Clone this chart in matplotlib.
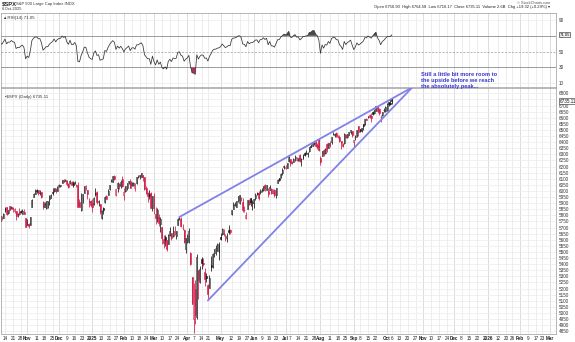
import numpy as np
import pandas as pd
import matplotlib
matplotlib.use("Agg")
import matplotlib.pyplot as plt

plt.rcParams["font.family"] = ["Liberation Sans", "DejaVu Sans"]

# ---------------------------------------------------------------------------
# S&P 500 daily closes before the first drawn candle (1-Aug-2024 .. 8-Oct-2024),
# used only to seed the RSI(14) calculation
warmup_close = [
    5410, 5347, 5186, 5240, 5199, 5319, 5344, 5344, 5435, 5455, 5543, 5554,
    5608, 5597, 5621, 5571, 5635, 5616, 5626, 5592, 5592, 5648,
    5529, 5520, 5503, 5408, 5471, 5496, 5554, 5596, 5626, 5633, 5635, 5618,
    5714, 5703, 5719, 5733, 5722, 5745, 5738, 5762,
    5709, 5710, 5700, 5751, 5696, 5751,
]

first_session = "2024-10-09"

# OHLC, 9-Oct-2024 .. 6-Oct-2025 (one row per month)
opens = [
    5751, 5778, 5775, 5836, 5866, 5816, 5875, 5860, 5857, 5833, 5835, 5813, 5827, 5834, 5815, 5831, 5776,
    5724, 5725, 5722, 5865, 5947, 5976, 6008, 6004, 5986, 5990, 5913, 5870, 5861, 5917, 5934, 5944, 5993, 6000, 6014, 6003,
    6040, 6042, 6069, 6089, 6081, 6083, 6058, 6061, 6074, 6068, 6063, 6052, 6047, 5913, 5842, 5941, 5985, 6025, 6007, 5921, 5920,
    5903, 5892, 5983, 5994, 5910, 5890, 5782, 5860, 5907, 5962, 5970, 6015, 6082, 6077, 6121, 5970, 6026, 6058, 6050, 6096,
    5970, 5998, 6020, 6073, 6083, 6047, 6050, 6026, 6061, 6115, 6121, 6118, 6134, 6114, 6027, 5983, 5971, 5981, 5857,
    5969, 5812, 5782, 5785, 5726, 5705, 5604, 5624, 5594, 5564, 5635, 5655, 5633, 5647, 5631, 5718, 5775, 5771, 5696, 5679, 5527,
    5597, 5580, 5492, 5292, 4953, 5193, 4966, 5353, 5256, 5442, 5411, 5335, 5306, 5232, 5207, 5395, 5381, 5489, 5529, 5508, 5499,
    5626, 5646, 5655, 5605, 5614, 5680, 5679, 5808, 5854, 5887, 5870, 5929, 5903, 5944, 5910, 5842, 5781, 5855, 5921, 5939, 5903,
    5897, 5939, 5979, 5985, 5988, 6005, 6010, 6050, 6010, 5997, 6005, 6012, 5987, 6004, 5970, 6062, 6104, 6112, 6151, 6194,
    6188, 6192, 6247, 6259, 6237, 6240, 6270, 6255, 6251, 6295, 6260, 6264, 6313, 6306, 6307, 6326, 6368, 6370, 6397, 6405, 6375, 6428,
    6271, 6287, 6336, 6310, 6386, 6352, 6389, 6398, 6463, 6455, 6478, 6446, 6446, 6406, 6384, 6390, 6458, 6440, 6457, 6486, 6489,
    6401, 6445, 6458, 6532, 6505, 6502, 6547, 6549, 6591, 6607, 6620, 6614, 6644, 6641, 6659, 6697, 6669, 6610, 6622, 6662, 6656,
    6665, 6731, 6722, 6750.90,
]
highs = [
    5796, 5796, 5822, 5871, 5870, 5846, 5878, 5878, 5867, 5864, 5835, 5817, 5862, 5842, 5848, 5851, 5780,
    5772, 5741, 5783, 5937, 5983, 6013, 6018, 6010, 6008, 5993, 5915, 5908, 5921, 5920, 5963, 5973, 6020, 6026, 6021, 6044,
    6053, 6052, 6089, 6100, 6099, 6088, 6066, 6093, 6080, 6078, 6085, 6057, 6070, 5936, 5982, 5978, 6040, 6049, 6007, 5941, 5929,
    5935, 5950, 6021, 6000, 5927, 5890, 5841, 5871, 5960, 5965, 6012, 6052, 6101, 6119, 6128, 6018, 6070, 6063, 6087, 6121,
    6022, 6042, 6062, 6084, 6101, 6073, 6076, 6063, 6116, 6127, 6130, 6147, 6134, 6115, 6044, 5992, 6010, 5994, 5960,
    5986, 5865, 5861, 5812, 5783, 5705, 5636, 5642, 5598, 5645, 5703, 5655, 5716, 5711, 5670, 5775, 5786, 5784, 5733, 5685, 5612,
    5651, 5695, 5500, 5292, 5247, 5267, 5481, 5353, 5381, 5460, 5450, 5367, 5329, 5233, 5310, 5470, 5489, 5528, 5554, 5572, 5581,
    5659, 5700, 5684, 5649, 5655, 5721, 5691, 5845, 5907, 5907, 5917, 5959, 5969, 5954, 5939, 5878, 5830, 5922, 5930, 5944, 5922,
    5937, 5981, 5991, 5999, 6016, 6022, 6043, 6059, 6046, 6026, 6050, 6023, 6018, 6018, 6028, 6101, 6108, 6146, 6188, 6216,
    6211, 6228, 6284, 6263, 6243, 6269, 6291, 6278, 6272, 6303, 6268, 6304, 6316, 6336, 6317, 6360, 6382, 6390, 6401, 6410, 6393, 6428,
    6288, 6331, 6347, 6349, 6395, 6395, 6410, 6446, 6481, 6474, 6482, 6458, 6456, 6407, 6394, 6479, 6466, 6467, 6485, 6503, 6490,
    6416, 6455, 6502, 6533, 6511, 6513, 6552, 6593, 6601, 6616, 6627, 6639, 6656, 6672, 6696, 6697, 6677, 6619, 6650, 6679, 6694,
    6718, 6733, 6750, 6764.58,
]
lows = [
    5745, 5763, 5775, 5824, 5804, 5809, 5840, 5852, 5825, 5821, 5762, 5785, 5800, 5823, 5810, 5813, 5703,
    5724, 5696, 5722, 5865, 5947, 5976, 5986, 5969, 5966, 5945, 5853, 5865, 5853, 5860, 5885, 5944, 5964, 5992, 5985, 6003,
    6035, 6034, 6062, 6075, 6079, 6042, 6024, 6060, 6050, 6036, 6060, 6036, 5867, 5866, 5832, 5903, 5982, 6008, 5933, 5869, 5869,
    5829, 5888, 5961, 5891, 5875, 5809, 5774, 5808, 5900, 5932, 5970, 6006, 6075, 6075, 6089, 5962, 5995, 6012, 6028, 6031,
    5923, 5990, 6007, 6056, 6020, 6044, 6043, 6003, 6060, 6107, 6100, 6112, 6084, 6009, 5977, 5909, 5932, 5858, 5837,
    5810, 5732, 5742, 5711, 5667, 5565, 5529, 5547, 5505, 5564, 5632, 5598, 5622, 5640, 5603, 5718, 5764, 5704, 5683, 5572, 5489,
    5571, 5572, 5391, 5069, 4835, 4910, 4950, 5116, 5246, 5359, 5387, 5220, 5255, 5102, 5207, 5344, 5371, 5456, 5478, 5505, 5434,
    5597, 5640, 5634, 5587, 5584, 5650, 5646, 5802, 5849, 5878, 5865, 5913, 5896, 5919, 5830, 5825, 5767, 5855, 5883, 5878, 5844,
    5862, 5925, 5967, 5922, 5978, 5995, 6000, 6002, 6004, 5953, 6004, 5976, 5971, 5952, 5944, 6062, 6080, 6107, 6133, 6183,
    6177, 6188, 6241, 6201, 6217, 6237, 6249, 6248, 6246, 6241, 6202, 6263, 6287, 6303, 6282, 6317, 6360, 6365, 6375, 6361, 6347, 6330,
    6212, 6287, 6289, 6303, 6318, 6352, 6362, 6386, 6457, 6443, 6442, 6436, 6401, 6343, 6360, 6385, 6438, 6436, 6455, 6470, 6445,
    6361, 6421, 6446, 6453, 6481, 6484, 6503, 6544, 6580, 6597, 6599, 6566, 6620, 6634, 6658, 6641, 6623, 6569, 6613, 6648, 6645,
    6657, 6698, 6707, 6716.17,
]
closes = [
    5792, 5780, 5815, 5860, 5815, 5842, 5841, 5865, 5854, 5851, 5797, 5810, 5808, 5824, 5833, 5814, 5705,
    5729, 5713, 5783, 5929, 5973, 5996, 6001, 5984, 5985, 5949, 5871, 5894, 5917, 5917, 5949, 5969, 5987, 6022, 5999, 6032,
    6047, 6050, 6086, 6075, 6090, 6053, 6035, 6084, 6051, 6051, 6074, 6051, 5872, 5867, 5931, 5974, 6040, 6038, 5971, 5907, 5882,
    5869, 5942, 5975, 5909, 5918, 5827, 5836, 5843, 5950, 5937, 5997, 6049, 6086, 6119, 6101, 6012, 6068, 6039, 6071, 6041,
    5995, 6038, 6061, 6084, 6026, 6066, 6069, 6052, 6115, 6115, 6130, 6144, 6118, 6013, 5983, 5955, 5956, 5862, 5955,
    5850, 5778, 5843, 5739, 5770, 5615, 5572, 5599, 5522, 5639, 5675, 5615, 5675, 5663, 5668, 5768, 5777, 5712, 5693, 5581, 5612,
    5633, 5671, 5397, 5074, 5062, 4983, 5457, 5268, 5363, 5406, 5397, 5276, 5283, 5158, 5288, 5376, 5485, 5525, 5529, 5561, 5569,
    5604, 5687, 5650, 5607, 5631, 5664, 5660, 5844, 5887, 5893, 5917, 5958, 5964, 5940, 5845, 5842, 5803, 5922, 5889, 5912, 5912,
    5936, 5970, 5971, 5939, 6000, 6006, 6039, 6022, 6045, 5977, 6033, 5983, 5981, 5968, 6025, 6092, 6092, 6141, 6173, 6205,
    6198, 6227, 6279, 6230, 6226, 6263, 6280, 6260, 6269, 6244, 6264, 6297, 6297, 6306, 6310, 6359, 6363, 6389, 6390, 6371, 6363, 6339,
    6238, 6330, 6299, 6345, 6340, 6389, 6373, 6446, 6467, 6469, 6450, 6449, 6411, 6396, 6370, 6467, 6439, 6466, 6481, 6502, 6460,
    6416, 6448, 6502, 6482, 6495, 6513, 6532, 6587, 6584, 6615, 6607, 6600, 6632, 6664, 6694, 6657, 6638, 6605, 6644, 6661, 6688,
    6711.20, 6715.35, 6715.79, 6735.11,
]
last_volume = "2.6B"

market_holidays = [
    "2024-11-28", "2024-12-25", "2025-01-01", "2025-01-09", "2025-01-20",
    "2025-02-17", "2025-04-18", "2025-05-26", "2025-06-19", "2025-07-04",
    "2025-09-01", "2025-11-27", "2025-12-25", "2026-01-01", "2026-01-19",
    "2026-02-16",
]

# date axis labels (weekly, month names in bold)
tick_dates = [
    "2024-10-14", "2024-10-21", "2024-10-28", "2024-11-01", "2024-11-11", "2024-11-18",
    "2024-11-25", "2024-12-02", "2024-12-09", "2024-12-16", "2024-12-23", "2025-01-02",
    "2025-01-13", "2025-01-21", "2025-01-27", "2025-02-03", "2025-02-10", "2025-02-18",
    "2025-02-24", "2025-03-03", "2025-03-10", "2025-03-17", "2025-03-24", "2025-04-01",
    "2025-04-07", "2025-04-14", "2025-04-21", "2025-05-01", "2025-05-12", "2025-05-19",
    "2025-05-27", "2025-06-02", "2025-06-09", "2025-06-16", "2025-06-23", "2025-07-01",
    "2025-07-07", "2025-07-14", "2025-07-21", "2025-07-28", "2025-08-01", "2025-08-11",
    "2025-08-18", "2025-08-25", "2025-09-02", "2025-09-08", "2025-09-15", "2025-09-22",
    "2025-10-01", "2025-10-06", "2025-10-13", "2025-10-20", "2025-10-27", "2025-11-03",
    "2025-11-10", "2025-11-17", "2025-11-24", "2025-12-01", "2025-12-08", "2025-12-15",
    "2025-12-22", "2026-01-02", "2026-01-12", "2026-01-20", "2026-01-26", "2026-02-02",
    "2026-02-09", "2026-02-17", "2026-02-23", "2026-03-02",
]
tick_labels = [
    "14", "21", "28", "Nov", "11", "18", "25", "Dec", "9", "16", "23", "2025",
    "13", "21", "27", "Feb", "10", "18", "24", "Mar", "10", "17", "24", "Apr",
    "7", "14", "21", "May", "12", "19", "27", "Jun", "9", "16", "23", "Jul",
    "7", "14", "21", "28", "Aug", "11", "18", "25", "Sep", "8", "15", "22",
    "Oct", "6", "13", "20", "27", "Nov", "10", "17", "24", "Dec", "8", "15",
    "22", "2026", "12", "20", "26", "Feb", "9", "17", "23", "Mar",
]

# hand-drawn wedge: two trend lines meeting at an apex
upper_start = ("2025-03-25", 5786)
lower_start = ("2025-04-21", 5102)
apex = ("2025-10-23", 6850)

note_text = "Still a little bit more room to\nthe upside before we reach\nthe absolutely peak..."

# ---------------------------------------------------------------------------
sessions = pd.date_range(first_session, "2026-03-31",
                         freq=pd.offsets.CustomBusinessDay(holidays=market_holidays))
slot = {d.strftime("%Y-%m-%d"): i for i, d in enumerate(sessions)}

o = np.array(opens, float)
h = np.array(highs, float)
l = np.array(lows, float)
c = np.array(closes, float)
x = np.arange(len(c))

# RSI(14), Wilder smoothing
allc = pd.Series(warmup_close + closes, dtype=float)
d = allc.diff()
gain = d.clip(lower=0).ewm(alpha=1 / 14, adjust=False).mean()
loss = (-d.clip(upper=0)).ewm(alpha=1 / 14, adjust=False).mean()
rsi = (100 - 100 / (1 + gain / loss)).to_numpy()[len(warmup_close):]

W, H = 575, 342
fig = plt.figure(figsize=(W / 100, H / 100), dpi=100)


def px_axes(left, top, right, bottom):
    return fig.add_axes([left / W, 1 - bottom / H, (right - left) / W, (bottom - top) / H])


ax_rsi = px_axes(1, 13, 556, 87)
ax = px_axes(1, 88, 556, 334)

xlo, xhi = 0.48, 350.6
tick_pos = [slot[t] for t in tick_dates]
month_like = [not lab.isdigit() or len(lab) == 4 for lab in tick_labels]

for a in (ax, ax_rsi):
    a.set_xlim(xlo, xhi)
    a.set_facecolor("white")
    for sp in a.spines.values():
        sp.set_color("#9a9a9a")
        sp.set_linewidth(0.5)
    for p, m in zip(tick_pos, month_like):
        a.axvline(p, color="#cfcfcf" if m else "#e6e6e6", lw=0.5, zorder=0)
    a.tick_params(length=0)

# --- price panel -----------------------------------------------------------
ax.set_ylim(4827, 6844)
price_ticks = np.arange(4850, 6801, 50)
for yv in price_ticks:
    ax.axhline(yv, color="#ececec", lw=0.5, zorder=0)
ax.yaxis.tick_right()
ax.set_yticks([t for t in price_ticks if t != 6750])
ax.set_yticklabels([str(t) for t in price_ticks if t != 6750], fontsize=3.3, color="#333333")
ax.tick_params(axis="y", pad=2)

ax.set_xticks(tick_pos)
ax.set_xticklabels(tick_labels, fontsize=3.3, color="#222222")
for lab, m in zip(ax.get_xticklabels(), month_like):
    if m:
        lab.set_fontweight("bold")
ax.tick_params(axis="x", pad=1.5)

prev = np.concatenate([[warmup_close[-1]], c[:-1]])
col = np.where(c >= prev, "#111111", "#d01a48")
ax.vlines(x, l, h, colors=col, lw=0.55, zorder=2)
body_lo = np.minimum(o, c)
body_h = np.maximum(np.abs(c - o), 1.5)
face = np.where(c < o, col, "white")
ax.bar(x, body_h, bottom=body_lo, width=0.62, color=face, edgecolor=col,
       linewidth=0.4, zorder=3)

ux = [slot[upper_start[0]], slot[apex[0]]]
uy = [upper_start[1], apex[1]]
lx = [slot[lower_start[0]], slot[apex[0]]]
ly = [lower_start[1], apex[1]]
ax.plot(ux, uy, color="#8282e6", lw=1.3, solid_capstyle="round", zorder=4)
ax.plot(lx, ly, color="#8282e6", lw=1.3, solid_capstyle="round", zorder=4)

ax.text(0.008, 0.965, f"\u25aa$SPX (Daily) {c[-1]:.2f}", transform=ax.transAxes,
        fontsize=3.2, color="#333333", va="center", ha="left")

ax.annotate(f"{c[-1]:.2f}", xy=(1.0, c[-1]), xycoords=("axes fraction", "data"),
            xytext=(2.5, 0), textcoords="offset points", fontsize=3.3, va="center",
            ha="left", color="#111111",
            bbox=dict(boxstyle="square,pad=0.15", fc="white", ec="#222222", lw=0.4),
            annotation_clip=False)

# --- RSI panel -------------------------------------------------------------
ax_rsi.set_ylim(5.3, 98.8)
ax_rsi.set_xticks([])
ax_rsi.yaxis.tick_right()
ax_rsi.set_yticks([10, 30, 50, 70, 90])
ax_rsi.set_yticklabels(["10", "30", "50", "70", "90"], fontsize=3.3, color="#333333")
ax_rsi.tick_params(axis="y", pad=2)
for yv in (10, 90):
    ax_rsi.axhline(yv, color="#ececec", lw=0.5, zorder=0)
ax_rsi.axhline(70, color="#8c8c8c", lw=0.6, zorder=1)
ax_rsi.axhline(30, color="#8c8c8c", lw=0.6, zorder=1)
ax_rsi.axhline(50, color="#9a9a9a", lw=0.5, ls=(0, (3, 2)), zorder=1)
ax_rsi.fill_between(x, rsi, 70, where=rsi > 70, interpolate=True, color="#4a4a4a", lw=0, zorder=2)
ax_rsi.fill_between(x, rsi, 30, where=rsi < 30, interpolate=True, color="#b0305a", lw=0, zorder=2)
ax_rsi.plot(x, rsi, color="#333333", lw=0.55, zorder=3)
ax_rsi.text(0.004, 0.93, f"\u25b2RSI(14) {rsi[-1]:.2f}", transform=ax_rsi.transAxes,
            fontsize=3.2, color="#333333", va="center", ha="left")
ax_rsi.annotate(f"{rsi[-1]:.2f}", xy=(1.0, rsi[-1]), xycoords=("axes fraction", "data"),
                xytext=(2.5, 0), textcoords="offset points", fontsize=3.1, va="center",
                ha="left", color="#111111",
                bbox=dict(boxstyle="square,pad=0.12", fc="#f0f0f0", ec="#222222", lw=0.4),
                annotation_clip=False)

# --- header ----------------------------------------------------------------
chg = c[-1] - c[-2]
fig.text(2 / W, 1 - 3.5 / H, "$SPX", fontsize=4.2, fontweight="bold", va="center", color="#222222")
fig.text(16 / W, 1 - 3.5 / H, "S&P 500 Large Cap Index INDX", fontsize=3.0, va="center", color="#333333")
fig.text(2 / W, 1 - 8.5 / H, "6-Oct-2025", fontsize=3.0, va="center", color="#333333")
fig.text(550 / W, 1 - 2.5 / H, "\u00a9 StockCharts.com", fontsize=2.8, va="center", ha="right", color="#555555")
fig.text(550 / W, 1 - 7 / H,
         f"Open {o[-1]:.2f}  High {h[-1]:.2f}  Low {l[-1]:.2f}  Close {c[-1]:.2f}  "
         f"Volume {last_volume}  Chg {chg:+.2f} ({chg / c[-2] * 100:+.2f}%) \u25be",
         fontsize=3.0, va="center", ha="right", color="#222222")

fig.text(421 / W, 1 - 72 / H, note_text, fontsize=4.1, fontweight="bold", color="#3535d0",
         va="top", ha="left", linespacing=1.25)

fig.savefig("out.png", dpi=100, facecolor="white")
